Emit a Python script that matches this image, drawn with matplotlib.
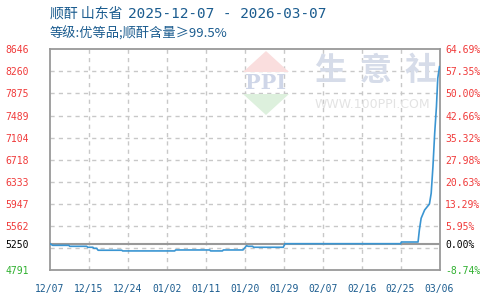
import matplotlib
matplotlib.use('Agg')
import matplotlib.pyplot as plt
import numpy as np
from matplotlib.patches import Polygon

# ---------------- data ----------------
days = [0, 0.6, 4.3, 4.5, 8.4, 8.6, 9.8, 10.0, 10.7, 10.8, 11.0, 16.4, 16.6,
        28.5, 28.7, 36.5, 36.7, 39.4, 39.6, 44.1, 44.9, 45.3, 46.3, 46.5,
        53.3, 53.7, 80.1, 80.3, 84.1, 84.4, 84.8, 85.6, 86.7, 87.1, 87.5,
        87.9, 88.3, 88.6, 89.0]
prices = [5250, 5222, 5222, 5205, 5205, 5188, 5188, 5170, 5170, 5153, 5136, 5136, 5124,
          5124, 5141, 5141, 5124, 5124, 5141, 5141, 5215, 5205, 5205, 5188,
          5188, 5250, 5250, 5280, 5280, 5490, 5694, 5839, 5944, 6131, 6595,
          7179, 7643, 8139, 8342]

x_labels = ['12/07', '12/15', '12/24', '01/02', '01/11', '01/20',
            '01/29', '02/07', '02/16', '02/25', '03/06']
base_price = 5250
y_min, y_max = 4791, 8646
y_ticks = [8646, 8260, 7875, 7489, 7104, 6718, 6333, 5947, 5562, 5250, 4791]
y_tick_labels = ['8646', '8260', '7875', '7489', '7104', '6718', '6333',
                 '5947', '5562', '5250', '4791']
pct_labels = ['64.69%', '57.35%', '50.00%', '42.66%', '35.32%', '27.98%',
              '20.63%', '13.29%', '5.95%', '0.00%', '-8.74%']

title_product = '顺酐 山东省'
title_dates = '2025-12-07 - 2026-03-07'
title2 = '等级:优等品;顺酐含量≥99.5%'

# ---------------- style ----------------
W, H = 490, 300
fig = plt.figure(figsize=(W / 100, H / 100), dpi=100)
ax = fig.add_axes([50 / W, 1 - 270 / H, 389.5 / W, 220.7 / H])

RED = '#f03a3a'
GREEN = '#2fb02f'
BLUE_TXT = '#1b5c8f'
LINE = '#3a95d2'
GRID = '#c8c8c8'
BORDER = '#999999'

def fx(px):
    return px / W

def fy(py):
    return 1 - py / H

# watermark
fig.patches.append(Polygon([(fx(266), fy(51)), (fx(243), fy(72)), (fx(289), fy(72))],
                           closed=True, transform=fig.transFigure,
                           facecolor='#fadede', edgecolor='none', zorder=0))
fig.patches.append(Polygon([(fx(243), fy(94)), (fx(289), fy(94)), (fx(266), fy(115))],
                           closed=True, transform=fig.transFigure,
                           facecolor='#ddf0dd', edgecolor='none', zorder=0))
fig.text(fx(266), fy(83), 'PPI', fontsize=15, fontweight='bold', color='#cfd6e8',
         ha='center', va='center', family='DejaVu Serif', zorder=0)
for ch, cx in zip(['生', '意', '社'], [330, 376, 421]):
    fig.text(fx(cx), fy(71), ch, fontsize=23, fontweight='bold', color='#d6dce9',
             ha='center', va='center', family='Noto Sans CJK SC', zorder=0)
fig.text(fx(372), fy(105), 'WWW.100PPI.COM', fontsize=9, color='#e3e3e3',
         ha='center', va='center', family='DejaVu Sans', zorder=0)
ax.set_facecolor('none')

# grid lines
x_pos = np.linspace(0, 89, len(x_labels))
for xp in x_pos[1:-1]:
    ax.axvline(xp, color=GRID, lw=1, ls=(0, (3, 3)), zorder=1)
for yp in np.linspace(y_min, y_max, 11)[1:-1]:
    ax.axhline(yp, color=GRID, lw=1, ls=(0, (3, 3)), zorder=1)
ax.axhline(base_price, color=BORDER, lw=1.5, zorder=2)

ax.plot(days, prices, color=LINE, lw=1.2, zorder=3)

ax.set_xlim(0, 89)
ax.set_ylim(y_min, y_max)
for s in ax.spines.values():
    s.set_color(BORDER)
    s.set_linewidth(1.3)

TICK_FS = 7
ax.set_xticks(x_pos)
ax.set_xticklabels(x_labels, family='DejaVu Sans Mono', fontsize=TICK_FS, color=BLUE_TXT)
ax.tick_params(axis='x', length=0, pad=10)

def col(v):
    if v > base_price:
        return RED
    if v < base_price:
        return GREEN
    return 'black'

ax.set_yticks(y_ticks)
ax.set_yticklabels(y_tick_labels, family='DejaVu Sans Mono', fontsize=TICK_FS)
ax.tick_params(axis='y', length=0, pad=45 * 0.72)
for lab, v in zip(ax.get_yticklabels(), y_ticks):
    lab.set_color(col(v))
    lab.set_horizontalalignment('left')

ax2 = ax.twinx()
ax2.set_ylim(y_min, y_max)
ax2.set_yticks(y_ticks)
ax2.set_yticklabels(pct_labels, family='DejaVu Sans Mono', fontsize=TICK_FS)
ax2.tick_params(axis='y', length=0, pad=4)
for lab, v in zip(ax2.get_yticklabels(), y_ticks):
    lab.set_color(col(v))
for s in ax2.spines.values():
    s.set_visible(False)

cjk = ['Noto Sans CJK SC', 'DejaVu Sans']
fig.text(fx(50), fy(14), title_product, fontsize=10, color=BLUE_TXT, family=cjk,
         ha='left', va='center')
fig.text(fx(128), fy(14.5), title_dates, fontsize=10.4, color=BLUE_TXT,
         family='DejaVu Sans Mono', ha='left', va='center')
fig.text(fx(50), fy(34), title2, fontsize=9.5, color=BLUE_TXT, family=cjk,
         ha='left', va='center')

fig.savefig('out.png', dpi=100)
